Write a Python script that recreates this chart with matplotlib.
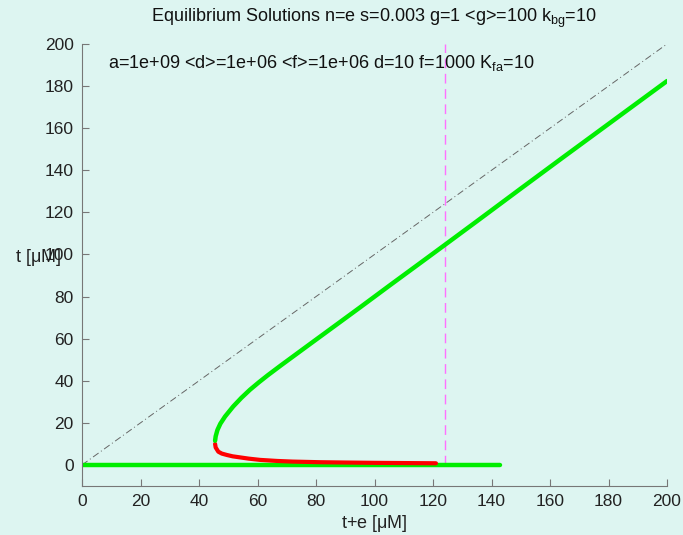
import numpy as np
import matplotlib
matplotlib.use("Agg")
import matplotlib.pyplot as plt

plt.rcParams['font.family'] = ['Liberation Sans', 'DejaVu Sans']

# Data
upper_x = [45.5, 45.7, 46.3, 47.3, 48.9, 51.7, 54.5, 57.4, 60.5, 63.5, 68.0, 73.0, 78.0, 84.0, 95.0, 105.0, 115.0, 124.0, 135.0, 150.0, 165.0, 180.0, 190.0, 200.0]
upper_t = [11.5, 13.6, 16.6, 19.6, 23.0, 27.8, 31.9, 35.7, 39.3, 42.6, 47.3, 52.4, 57.5, 63.6, 74.8, 85.1, 95.3, 104.5, 115.8, 131.3, 146.7, 162.0, 172.2, 182.4]

lower_x = [45.5, 45.7, 46.6, 47.8, 49.5, 51.5, 54.0, 57.0, 60.9, 66.7, 72.0, 81.4, 90.0, 100.0, 110.0, 121.0]
lower_t = [10.0, 8.3, 6.3, 5.4, 4.75, 4.1, 3.6, 3.0, 2.4, 1.9, 1.6, 1.3, 1.15, 1.0, 0.9, 0.8]

zero_x = [0.0, 143.0]
zero_t = [0.0, 0.0]

diag_x = [0, 200]
diag_t = [0, 200]

vline_x = 124
vline_t = [0, 200]

xticks = [0, 20, 40, 60, 80, 100, 120, 140, 160, 180, 200]
yticks = [0, 20, 40, 60, 80, 100, 120, 140, 160, 180, 200]

bg = '#ddf5f1'
fig = plt.figure(figsize=(6.83, 5.35), dpi=100, facecolor=bg)
ax = fig.add_axes([82/683, 1-486/535, (667-82)/683, (486-44)/535])
ax.set_facecolor(bg)

ax.plot(diag_x, diag_t, color='#666666', linewidth=0.7, dashes=(7, 3, 1, 3))
ax.plot([vline_x, vline_x], vline_t, color='#ff70ff', linewidth=1.0, dashes=(7, 4))
ax.plot(zero_x, zero_t, color='#00ee00', linewidth=3.2, solid_capstyle='round')
ax.plot(lower_x, lower_t, color='#ff0000', linewidth=3.0, solid_capstyle='round')
ax.plot(upper_x, upper_t, color='#00ee00', linewidth=3.2, solid_capstyle='round')

ax.set_xlim(0, 200)
ax.set_ylim(-10, 200)
ax.set_xticks(xticks)
ax.set_yticks(yticks)
for s in ['top', 'right']:
    ax.spines[s].set_visible(False)
for s in ['left', 'bottom']:
    ax.spines[s].set_color('#777777')
    ax.spines[s].set_linewidth(0.8)
ax.tick_params(direction='in', length=5, color='#777777', labelsize=12.5, labelcolor='#222222', pad=6)

ax.set_xlabel('t+e [$\\mathregular{\\mu}$M]', fontsize=13, color='#222222', labelpad=3)
fig.text(38/683, 1-258/535, 't [$\\mathregular{\\mu}$M]', fontsize=13, color='#222222',
         ha='center', va='center')

fig.text(374/683, 1-18/535, 'Equilibrium Solutions n=e s=0.003 g=1 <g>=100 k$_{\\mathregular{bg}}$=10',
         ha='center', va='center', fontsize=13, color='#111111')
ax.text(9.0, 191, 'a=1e+09 <d>=1e+06 <f>=1e+06 d=10 f=1000 K$_{\\mathregular{fa}}$=10',
        ha='left', va='center', fontsize=13, color='#111111')

fig.savefig('out.png', dpi=100, facecolor=bg)
